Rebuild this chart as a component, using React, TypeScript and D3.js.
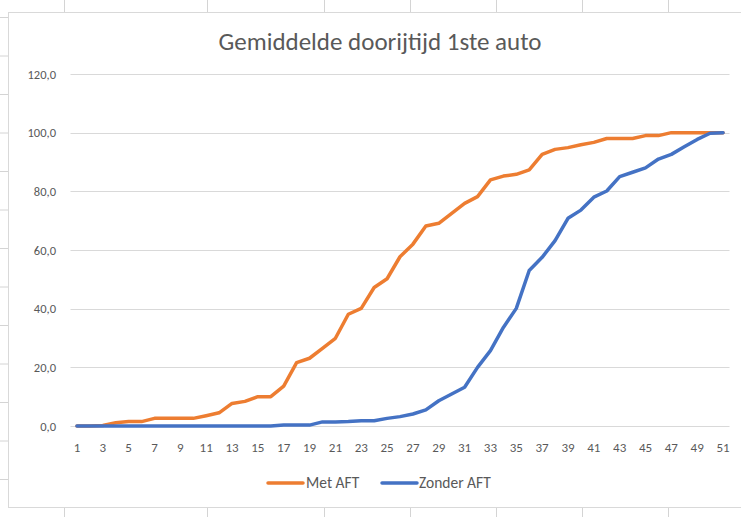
import React from "react";
import * as d3 from "d3";

const categories: number[] = d3.range(1, 52);
const metAFT: number[] = [
  0, 0, 0.2, 1.1, 1.5, 1.5, 2.6, 2.6, 2.6, 2.6,
  3.5, 4.5, 7.7, 8.4, 10.0, 10.0, 13.6, 21.6, 23.1, 26.5,
  29.9, 38.1, 40.1, 47.2, 50.2, 57.7, 62.0, 68.2, 69.1, 72.5,
  75.9, 78.2, 83.9, 85.2, 85.8, 87.3, 92.6, 94.3, 94.9, 95.9,
  96.7, 98.0, 98.0, 98.0, 99.0, 99.0, 100, 100, 100, 100, 100,
];
const zonderAFT: number[] = [
  0, 0, 0, 0, 0, 0, 0, 0, 0, 0,
  0, 0, 0, 0, 0, 0, 0.3, 0.3, 0.3, 1.4,
  1.4, 1.5, 1.8, 1.8, 2.6, 3.2, 4.1, 5.5, 8.6, 10.9,
  13.2, 20.0, 25.7, 33.6, 40.1, 53.0, 57.5, 63.2, 70.8, 73.6,
  78.0, 80.1, 85.0, 86.5, 88.0, 91.0, 92.6, 95.2, 97.7, 99.8, 100,
];
const yTicks: number[] = [0, 20, 40, 60, 80, 100, 120];
const seriesNames: string[] = ["Met AFT", "Zonder AFT"];
const title = "Gemiddelde doorijtijd 1ste auto";

const W = 741;
const H = 517;
const FONT = "Carlito, Calibri, Lato, 'Open Sans', sans-serif";
const TEXT = "#595959";
const GRID = "#d9d9d9";
const COLORS = ["#ED7D31", "#4472C4"];

export default function App() {
  const x = d3.scalePoint<number>().domain(categories).range([70.5, 729.5]).padding(0.5);
  const y = d3.scaleLinear().domain([0, 120]).range([426, 74]);
  const fmt = (v: number) => v.toFixed(1).replace(".", ",");
  const line = d3
    .line<number>()
    .x((_, i) => x(categories[i]) as number)
    .y((d) => y(d));
  const series = [metAFT, zonderAFT];
  const colXs = [64, 207, 324, 410, 496, 582, 668];
  const rowYs = d3.range(17.5, 520, 38.5);
  const labelCats = categories.filter((c) => c % 2 === 1);

  return (
    <svg
      width={W}
      height={H}
      style={{ position: "absolute", left: 0, top: 0, background: "#fff" }}
      fontFamily={FONT}
    >
      {colXs.map((cx) => (
        <line key={"c" + cx} x1={cx + 0.5} x2={cx + 0.5} y1={0} y2={H} stroke="#d4d4d4" strokeWidth={1} />
      ))}
      {rowYs.map((ry) => (
        <line key={"r" + ry} x1={0} x2={W} y1={ry} y2={ry} stroke="#d4d4d4" strokeWidth={1} />
      ))}
      <rect x={8.5} y={12.5} width={W} height={495} fill="#fff" stroke="#d9d9d9" strokeWidth={1} />

      <text x={380} y={50} textAnchor="middle" fontSize={25} fill={TEXT} fontWeight={300}>
        {title}
      </text>

      {yTicks.map((t) => (
        <g key={t}>
          <line x1={70.5} x2={729.5} y1={Math.round(y(t)) + 0.5} y2={Math.round(y(t)) + 0.5} stroke={GRID} strokeWidth={1} />
          <text x={56} y={y(t) + 4.5} textAnchor="end" fontSize={12.5} fill={TEXT}>
            {fmt(t)}
          </text>
        </g>
      ))}

      {labelCats.map((c) => (
        <text key={c} x={x(c)} y={452} textAnchor="middle" fontSize={13} fill={TEXT}>
          {c}
        </text>
      ))}

      {series.map((s, i) => (
        <path
          key={i}
          d={line(s) as string}
          fill="none"
          stroke={COLORS[i]}
          strokeWidth={3.5}
          strokeLinejoin="round"
          strokeLinecap="round"
        />
      ))}

      <g>
        <line x1={268} x2={303} y1={483} y2={483} stroke={COLORS[0]} strokeWidth={3.5} strokeLinecap="round" />
        <text x={306} y={488} fontSize={15.5} fill={TEXT}>
          {seriesNames[0]}
        </text>
        <line x1={382} x2={417} y1={483} y2={483} stroke={COLORS[1]} strokeWidth={3.5} strokeLinecap="round" />
        <text x={419} y={488} fontSize={15.5} fill={TEXT}>
          {seriesNames[1]}
        </text>
      </g>
    </svg>
  );
}
